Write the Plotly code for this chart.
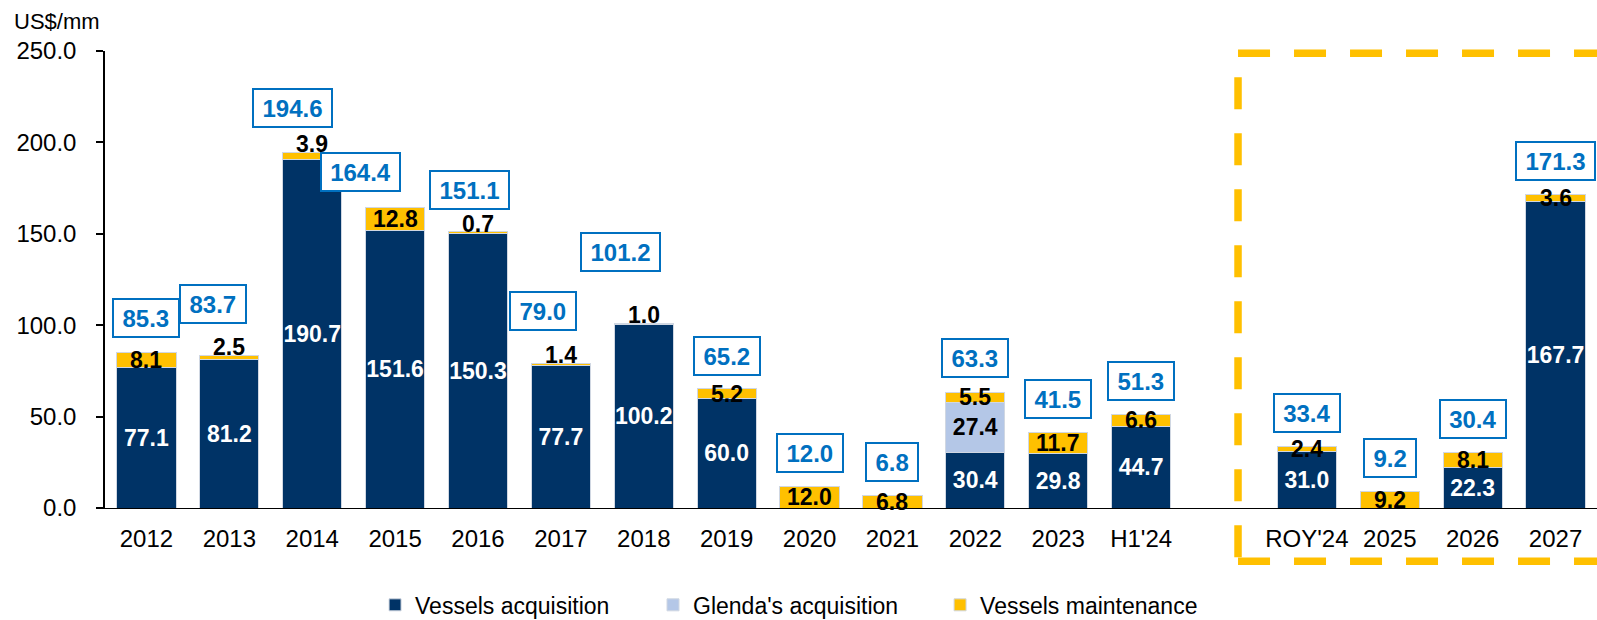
import plotly.graph_objects as go

# ---------------- data ----------------
categories = ["2012", "2013", "2014", "2015", "2016", "2017", "2018", "2019", "2020",
              "2021", "2022", "2023", "H1'24", "", "ROY'24", "2025", "2026", "2027"]
vessels_acq = [77.1, 81.2, 190.7, 151.6, 150.3, 77.7, 100.2, 60.0, None,
               None, 30.4, 29.8, 44.7, None, 31.0, None, 22.3, 167.7]
glenda_acq = [None, None, None, None, None, None, None, None, None,
              None, 27.4, None, None, None, None, None, None, None]
vessels_maint = [8.1, 2.5, 3.9, 12.8, 0.7, 1.4, 1.0, 5.2, 12.0,
                 6.8, 5.5, 11.7, 6.6, None, 2.4, 9.2, 8.1, 3.6]
totals = [85.3, 83.7, 194.6, 164.4, 151.1, 79.0, 101.2, 65.2, 12.0,
          6.8, 63.3, 41.5, 51.3, None, 33.4, 9.2, 30.4, 171.3]

# label placement (offsets of the boxed totals, in category / value units)
box_dx = [0, -0.20, -0.24, -0.42, -0.10, -0.21, -0.28, 0, 0,
          0, 0, 0, 0, 0, 0, 0, 0, 0]
box_dy = [18.7, 27.7, 24.3, 19.4, 22.6, 28.7, 38.6, 18.2, 18.2,
          18.2, 18.7, 18.3, 18.3, 0, 18.5, 18.3, 18.3, 18.6]
maint_label_above = ["2013", "2014", "2016", "2017", "2018"]

NAVY = "#003366"
LIGHT = "#B4C7E7"
GOLD = "#FFC000"
BLUE = "#0070C0"
FONT = "Liberation Sans, Arial, sans-serif"

x = list(range(len(categories)))

fig = go.Figure()
fig.add_trace(go.Bar(
    x=x, y=vessels_acq, name="Vessels acquisition", marker_color=NAVY,
    marker_line=dict(color="#D0D7E2", width=1), legend="legend",
    text=[f"<b>{v:.1f}</b>" if v else "" for v in vessels_acq],
    textposition="inside", insidetextanchor="middle", textangle=0,
    textfont=dict(color="white", size=23, family=FONT),
))
fig.add_trace(go.Bar(
    x=x, y=glenda_acq, name="Glenda's acquisition", marker_color=LIGHT,
    marker_line=dict(color="#D0D7E2", width=1), legend="legend2",
    text=[f"<b>{v:.1f}</b>" if v else "" for v in glenda_acq],
    textposition="inside", insidetextanchor="middle", textangle=0,
    textfont=dict(color="black", size=23, family=FONT),
))
fig.add_trace(go.Bar(
    x=x, y=vessels_maint, name="Vessels maintenance", marker_color=GOLD,
    marker_line=dict(color="#D0D7E2", width=1), legend="legend3",
    textposition="none",
))

annotations = []
# maintenance labels
for i, cat in enumerate(categories):
    m = vessels_maint[i]
    if not m:
        continue
    base = (vessels_acq[i] or 0) + (glenda_acq[i] or 0)
    if cat in maint_label_above:
        yy, ys = base + m, 8
    else:
        yy, ys = base + m / 2, 0
    annotations.append(dict(
        x=i, y=yy, xref="x", yref="y", text=f"<b>{m:.1f}</b>", showarrow=False,
        yshift=ys, font=dict(size=23, color="black", family=FONT), yanchor="middle",
    ))

# boxed totals
for i, t in enumerate(totals):
    if t is None:
        continue
    txt = f"{t:.1f}"
    tw = sum(0.278 if c == "." else 0.556 for c in txt) * 24
    annotations.append(dict(
        x=i + box_dx[i], y=t + box_dy[i], xref="x", yref="y", text=f"<b>{txt}</b>",
        showarrow=False, font=dict(size=24, color=BLUE, family=FONT),
        bordercolor=BLUE, borderwidth=2, borderpad=3, bgcolor="white",
        width=tw + 11, height=30, xanchor="center", yanchor="middle",
    ))

annotations.append(dict(
    x=-0.062, y=1.065, xref="paper", yref="paper", text="US$/mm", showarrow=False,
    xanchor="left", yanchor="middle", font=dict(size=22, color="black", family=FONT),
))

# dashed forecast frame (paper coordinates)
fx0 = 0.7594
shapes = [
    dict(type="line", xref="paper", yref="paper", x0=fx0, x1=1.05, y0=0.995, y1=0.995,
         line=dict(color=GOLD, width=7.5, dash="32px,24px")),
    dict(type="line", xref="paper", yref="paper", x0=fx0, x1=1.05, y0=-0.1166, y1=-0.1166,
         line=dict(color=GOLD, width=7.5, dash="32px,24px")),
    dict(type="line", xref="paper", yref="paper", x0=fx0, x1=fx0, y0=0.9425, y1=-0.1166,
         line=dict(color=GOLD, width=7.5, dash="32px,24px")),
]


def legend_box(xpos):
    return dict(
        orientation="h", x=xpos, y=-0.212, xanchor="left", yanchor="middle",
        font=dict(size=23, family=FONT, color="black"),
        bgcolor="rgba(0,0,0,0)",
    )


fig.update_layout(
    width=1597, height=620,
    margin=dict(l=105, r=0, t=51, b=112, autoexpand=False),
    plot_bgcolor="white", paper_bgcolor="white",
    barmode="stack", bargap=0.285,
    uniformtext=dict(minsize=23, mode="show"),
    font=dict(family=FONT, color="black"),
    annotations=annotations,
    shapes=shapes,
    showlegend=True,
    legend=legend_box(0.181),
    legend2=legend_box(0.3673),
    legend3=legend_box(0.5597),
)
fig.update_xaxes(
    range=[-0.5, 17.5], tickvals=x, ticktext=categories,
    showline=True, linecolor="black", linewidth=1.3, ticks="",
    showgrid=False, zeroline=False, ticklabelstandoff=9,
    tickfont=dict(size=24, family=FONT, color="black"),
)
fig.update_yaxes(
    range=[0, 250], tickvals=[0, 50, 100, 150, 200, 250], tickformat=".1f",
    showline=True, linecolor="black", linewidth=1.5, ticks="outside",
    ticklen=7, tickwidth=1.5, tickcolor="black", showgrid=False, zeroline=False,
    ticklabelstandoff=15, tickfont=dict(size=24, family=FONT, color="black"),
)

fig.write_html(
    "out.html",
    config={"displayModeBar": False},
    post_script="document.body.style.margin='0';document.body.style.overflow='hidden';",
)
